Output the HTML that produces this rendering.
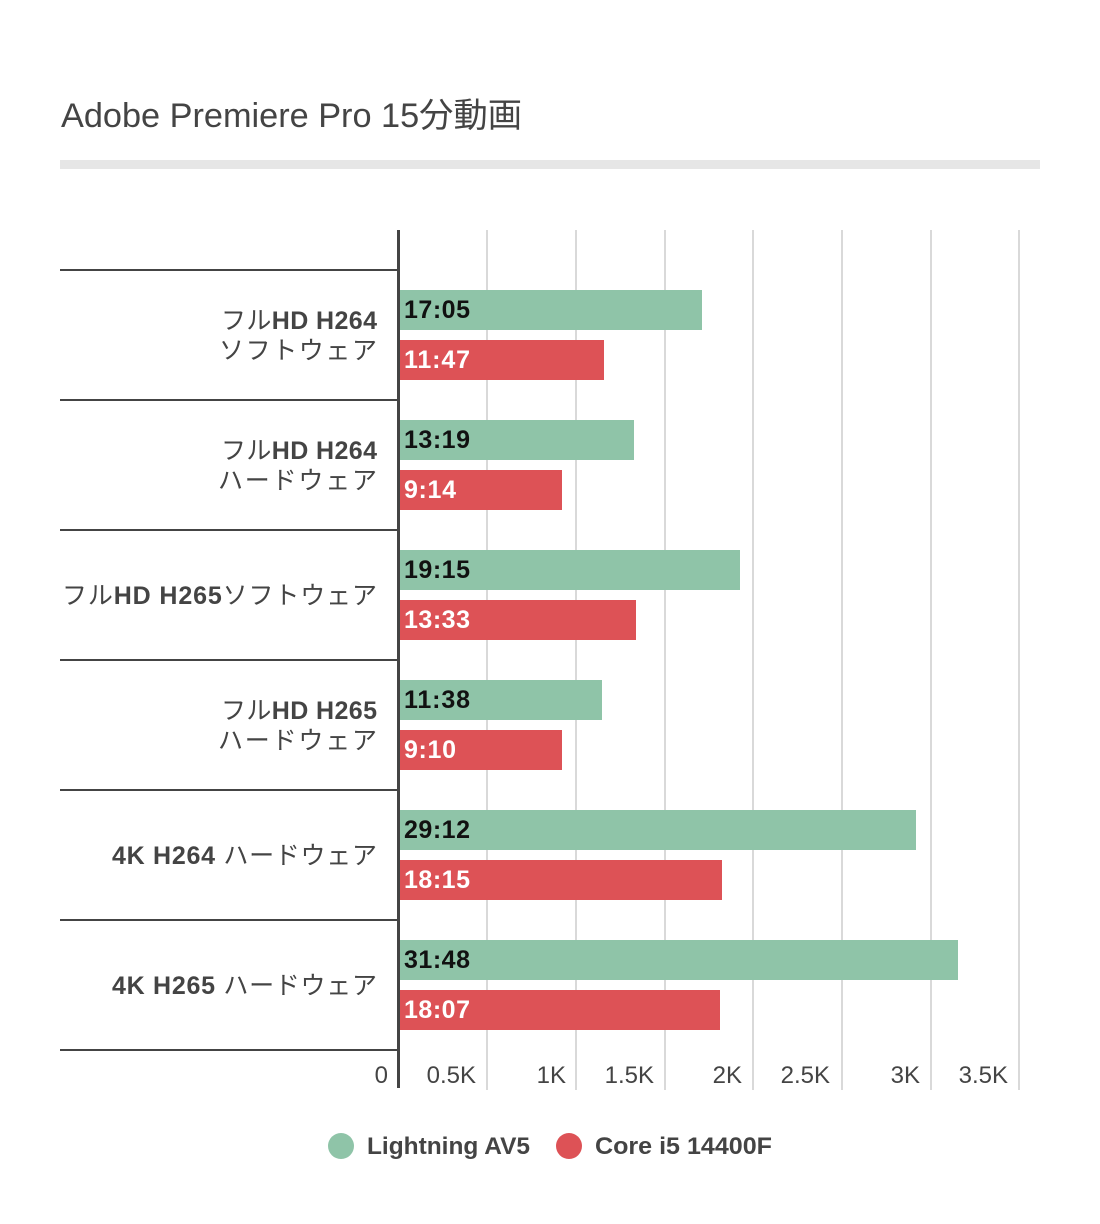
<!DOCTYPE html>
<html><head><meta charset="utf-8"><style>
html,body{margin:0;padding:0;background:#fff;}
svg{display:block;font-family:"Liberation Sans","Noto Sans CJK JP",sans-serif;}
.c{font-size:25px;fill:#444;}
.b{font-weight:bold;}
.t{font-size:24px;fill:#444;}
.v{font-size:25px;font-weight:bold;}
</style></head><body>
<svg width="1100" height="1224" viewBox="0 0 1100 1224" xmlns="http://www.w3.org/2000/svg">
<text x="61" y="127" font-size="34" fill="#444" textLength="461" lengthAdjust="spacingAndGlyphs">Adobe Premiere Pro 15分動画</text>
<rect x="60" y="160" width="980" height="9" fill="#e6e6e6"/>
<g stroke="#d9d9d9" stroke-width="2">
<line x1="487" y1="230" x2="487" y2="1090"/><line x1="576" y1="230" x2="576" y2="1090"/>
<line x1="665" y1="230" x2="665" y2="1090"/><line x1="753" y1="230" x2="753" y2="1090"/>
<line x1="842" y1="230" x2="842" y2="1090"/><line x1="931" y1="230" x2="931" y2="1090"/>
<line x1="1019" y1="230" x2="1019" y2="1090"/>
</g>
<g stroke="#444" stroke-width="2">
<line x1="60" y1="270" x2="398" y2="270"/><line x1="60" y1="400" x2="398" y2="400"/>
<line x1="60" y1="530" x2="398" y2="530"/><line x1="60" y1="660" x2="398" y2="660"/>
<line x1="60" y1="790" x2="398" y2="790"/><line x1="60" y1="920" x2="398" y2="920"/>
<line x1="60" y1="1050" x2="398" y2="1050"/>
</g>
<g fill="#8fc4a8">
<rect x="400" y="290" width="302" height="40"/><rect x="400" y="420" width="234" height="40"/>
<rect x="400" y="550" width="340" height="40"/><rect x="400" y="680" width="202" height="40"/>
<rect x="400" y="810" width="516" height="40"/><rect x="400" y="940" width="558" height="40"/>
</g>
<g fill="#dd5256">
<rect x="400" y="340" width="204" height="40"/><rect x="400" y="470" width="162" height="40"/>
<rect x="400" y="600" width="236" height="40"/><rect x="400" y="730" width="162" height="40"/>
<rect x="400" y="860" width="322" height="40"/><rect x="400" y="990" width="320" height="40"/>
</g>
<line x1="398.5" y1="230" x2="398.5" y2="1088" stroke="#444" stroke-width="3"/>
<g class="v" fill="#111" lengthAdjust="spacingAndGlyphs">
<text x="404" y="318" textLength="66">17:05</text><text x="404" y="448" textLength="66">13:19</text>
<text x="404" y="578" textLength="66">19:15</text><text x="404" y="708" textLength="66">11:38</text>
<text x="404" y="838" textLength="66">29:12</text><text x="404" y="968" textLength="66">31:48</text>
</g>
<g class="v" fill="#fff">
<text x="404" y="368" textLength="66">11:47</text><text x="404" y="498" textLength="52">9:14</text>
<text x="404" y="628" textLength="66">13:33</text><text x="404" y="758" textLength="52">9:10</text>
<text x="404" y="888" textLength="66">18:15</text><text x="404" y="1018" textLength="66">18:07</text>
</g>
<g class="c">
<text x="221" y="329" textLength="156">フル<tspan class="b">HD H264</tspan></text>
<text x="219" y="359" textLength="158">ソフトウェア</text>
<text x="221" y="459" textLength="156">フル<tspan class="b">HD H264</tspan></text>
<text x="218" y="489" textLength="159">ハードウェア</text>
<text x="62" y="604" textLength="315">フル<tspan class="b">HD H265</tspan>ソフトウェア</text>
<text x="221" y="719" textLength="156">フル<tspan class="b">HD H265</tspan></text>
<text x="218" y="749" textLength="159">ハードウェア</text>
<text x="112" y="864" textLength="265"><tspan class="b">4K H264 </tspan>ハードウェア</text>
<text x="112" y="994" textLength="265"><tspan class="b">4K H265 </tspan>ハードウェア</text>
</g>
<g class="t" text-anchor="end">
<text x="388" y="1083">0</text><text x="476" y="1083">0.5K</text>
<text x="566" y="1083">1K</text><text x="654" y="1083">1.5K</text>
<text x="742" y="1083">2K</text><text x="830" y="1083">2.5K</text>
<text x="920" y="1083">3K</text><text x="1008" y="1083">3.5K</text>
</g>
<circle cx="341" cy="1146" r="13" fill="#8fc4a8"/>
<text x="367" y="1154" class="t b" textLength="163" lengthAdjust="spacingAndGlyphs">Lightning AV5</text>
<circle cx="569" cy="1146" r="13" fill="#dd5256"/>
<text x="595" y="1154" class="t b" textLength="177" lengthAdjust="spacingAndGlyphs">Core i5 14400F</text>
</svg>
</body></html>
